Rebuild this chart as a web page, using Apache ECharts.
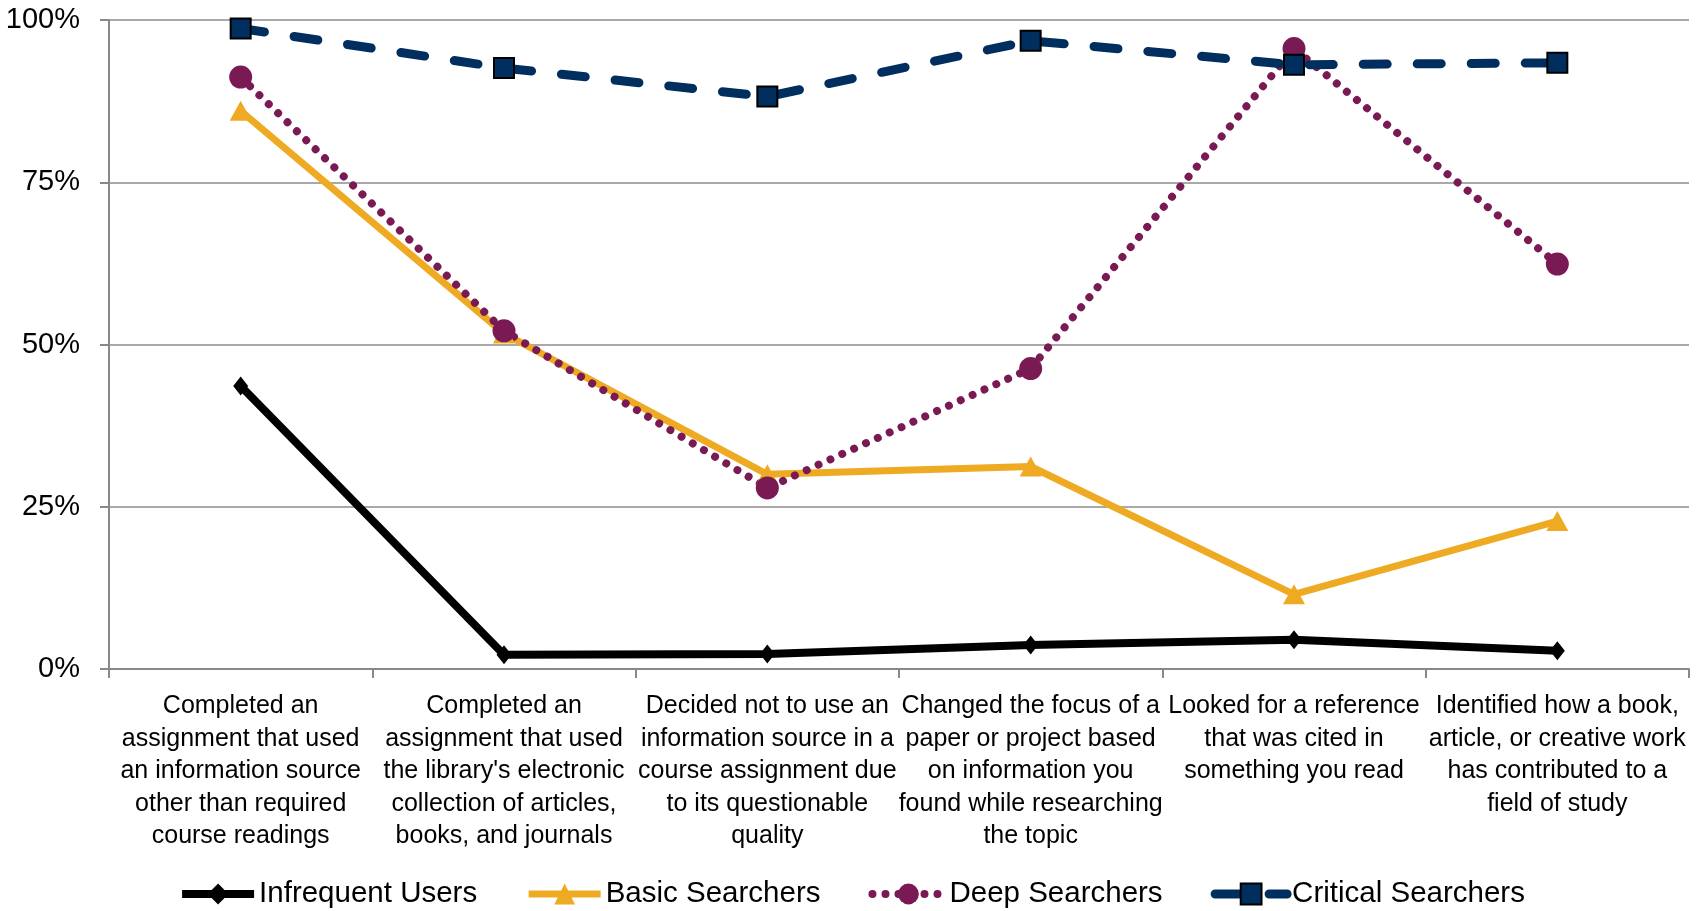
<!DOCTYPE html>
<html>
<head>
<meta charset="utf-8">
<style>
  html, body { margin: 0; padding: 0; background: #ffffff; }
  #chart { width: 1703px; height: 911px; }
</style>
<script src="https://cdn.jsdelivr.net/npm/echarts@6/dist/echarts.min.js"></script>
</head>
<body>
<div id="chart"></div>
<script>
const categories = [
  'Completed an\nassignment that used\nan information source\nother than required\ncourse readings',
  "Completed an\nassignment that used\nthe library's electronic\ncollection of articles,\nbooks, and journals",
  'Decided not to use an\ninformation source in a\ncourse assignment due\nto its questionable\nquality',
  'Changed the focus of a\npaper or project based\non information you\nfound while researching\nthe topic',
  'Looked for a reference\nthat was cited in\nsomething you read',
  'Identified how a book,\narticle, or creative work\nhas contributed to a\nfield of study'
];

const seriesNames = ['Infrequent Users', 'Basic Searchers', 'Deep Searchers', 'Critical Searchers'];

// Share of each group (percent)
const infrequentUsers   = [43.6, 2.2, 2.3, 3.7, 4.5, 2.8];
const basicSearchers    = [86.0, 51.7, 30.0, 31.2, 11.5, 22.8];
const deepSearchers     = [91.2, 52.1, 27.9, 46.3, 95.6, 62.4];
const criticalSearchers = [98.7, 92.6, 88.2, 96.8, 93.1, 93.4];

const yTicks = [0, 25, 50, 75, 100];

const FONT = "'Liberation Sans Narrow', 'Liberation Sans', sans-serif";

// Per-series look, shared by the plotted lines and their legend icons
const looks = [
  { color: '#000000', width: 8, type: 'solid', cap: 'butt', symbol: 'diamond', size: [15, 19] },
  { color: '#EFAA23', width: 7, type: 'solid', cap: 'butt', symbol: 'triangle', size: [22, 20] },
  { color: '#7A1A55', width: 8, type: [0.01, 13], cap: 'round', symbol: 'circle', size: 23 },
  { color: '#002F5F', width: 9, type: [24, 30], cap: 'round', symbol: 'rect', size: 20 }
];
const values = [infrequentUsers, basicSearchers, deepSearchers, criticalSearchers];

const chart = echarts.init(document.getElementById('chart'), null, { renderer: 'canvas' });

chart.setOption({
  animation: false,
  backgroundColor: '#ffffff',
  textStyle: { fontFamily: FONT },
  grid: { left: 109, right: 14, top: 20, bottom: 242, containLabel: false },
  legend: {
    data: seriesNames.map((name, i) => ({
      name,
      lineStyle: { width: looks[i].width, type: looks[i].type, cap: looks[i].cap, color: looks[i].color }
    })),
    bottom: -3,
    left: 'center',
    itemWidth: 72,
    itemHeight: 26,
    itemGap: 48,
    textStyle: { fontFamily: FONT, fontSize: 29.5, color: '#000000', padding: [0, 0, 0, 0] }
  },
  xAxis: {
    type: 'category',
    data: categories,
    boundaryGap: true,
    axisLine: { show: true, lineStyle: { color: '#888888', width: 2 } },
    axisTick: { show: true, alignWithLabel: false, length: 9, lineStyle: { color: '#888888', width: 2 } },
    axisLabel: {
      interval: 0,
      margin: 21,
      color: '#000000',
      fontFamily: FONT,
      fontSize: 25,
      lineHeight: 32.5,
      align: 'center'
    }
  },
  yAxis: {
    type: 'value',
    min: 0,
    max: 100,
    interval: 25,
    axisLine: { show: true, lineStyle: { color: '#888888', width: 2 } },
    axisTick: { show: true, length: 9, lineStyle: { color: '#888888', width: 2 } },
    splitLine: { show: true, lineStyle: { color: '#8c8c8c', width: 1.5 } },
    axisLabel: {
      margin: 29,
      color: '#000000',
      fontFamily: FONT,
      fontSize: 29,
      formatter: v => yTicks.includes(v) ? v + '%' : ''
    }
  },
  series: seriesNames.map((name, i) => ({
    name,
    type: 'line',
    data: values[i],
    symbol: looks[i].symbol,
    symbolSize: looks[i].size,
    itemStyle: i === 3
      ? { color: looks[i].color, borderColor: '#000000', borderWidth: 2 }
      : { color: looks[i].color },
    lineStyle: {
      color: looks[i].color,
      width: looks[i].width,
      type: looks[i].type,
      cap: looks[i].cap,
      join: 'round'
    }
  }))
});
</script>
</body>
</html>
